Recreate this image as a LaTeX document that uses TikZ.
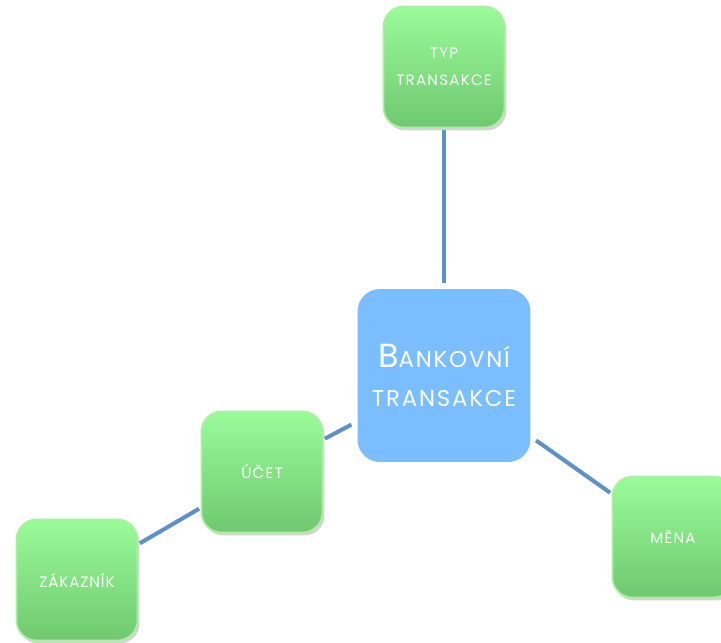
\documentclass[tikz,border=0pt]{standalone}
\usepackage{fontspec}
\usetikzlibrary{shadows}
\newfontfamily\boxfont[LetterSpace=8]{Poppins}
\definecolor{topgreen}{RGB}{152,252,152}
\definecolor{botgreen}{RGB}{112,200,112}
\definecolor{rimgreen}{RGB}{170,240,160}
\definecolor{centerblue}{RGB}{122,190,255}
\definecolor{linkblue}{RGB}{92,146,200}

\begin{document}
\begin{tikzpicture}[x=0.02cm, y=-0.02cm,
        leaf/.style={rectangle, rounded corners=0.4cm, minimum width=2.42cm, minimum height=2.42cm,
            top color=topgreen, bottom color=botgreen, draw=rimgreen, line width=1pt,
            drop shadow={opacity=0.35, shadow xshift=0.04cm, shadow yshift=-0.06cm},
            text=white, align=center, font=\boxfont\fontsize{8.6}{15.5}\selectfont},
        hub/.style={rectangle, rounded corners=0.45cm, minimum width=3.46cm, minimum height=3.46cm,
            fill=centerblue, text=white, align=center, font=\boxfont\fontsize{13}{22}\selectfont},
        link/.style={linkblue, line width=2.3pt}]
        \useasboundingbox (0,0) rectangle (721,643);
        % boxes
        \node[hub] (bank) at (444,375.5) {{\fontsize{19}{22}\selectfont B}ANKOVNÍ\\TRANSAKCE};
        \node[leaf] (typ) at (444,67) {TYP\\TRANSAKCE};
        \node[leaf] (ucet) at (262,472) {ÚČET};
        \node[leaf] (zakaznik) at (77,580) {Z\kern0.5pt Á\kern0.5pt K\kern0.5pt A\kern0.5pt Z\kern0.5pt N\kern0.5pt Í\kern0.5pt K};
        \node[leaf] (mena) at (673,537) {MĚNA};
        % links
        \draw[link, shorten <=1pt, shorten >=0.12cm] (typ) -- (bank);
        \draw[link, shorten <=0.13cm, shorten >=1pt] (bank) -- (ucet);
        \draw[link, shorten <=0.13cm, shorten >=1pt] (bank) -- (mena);
        \draw[link, shorten <=1pt, shorten >=1pt] (ucet) -- (zakaznik);
\end{tikzpicture}
\end{document}
